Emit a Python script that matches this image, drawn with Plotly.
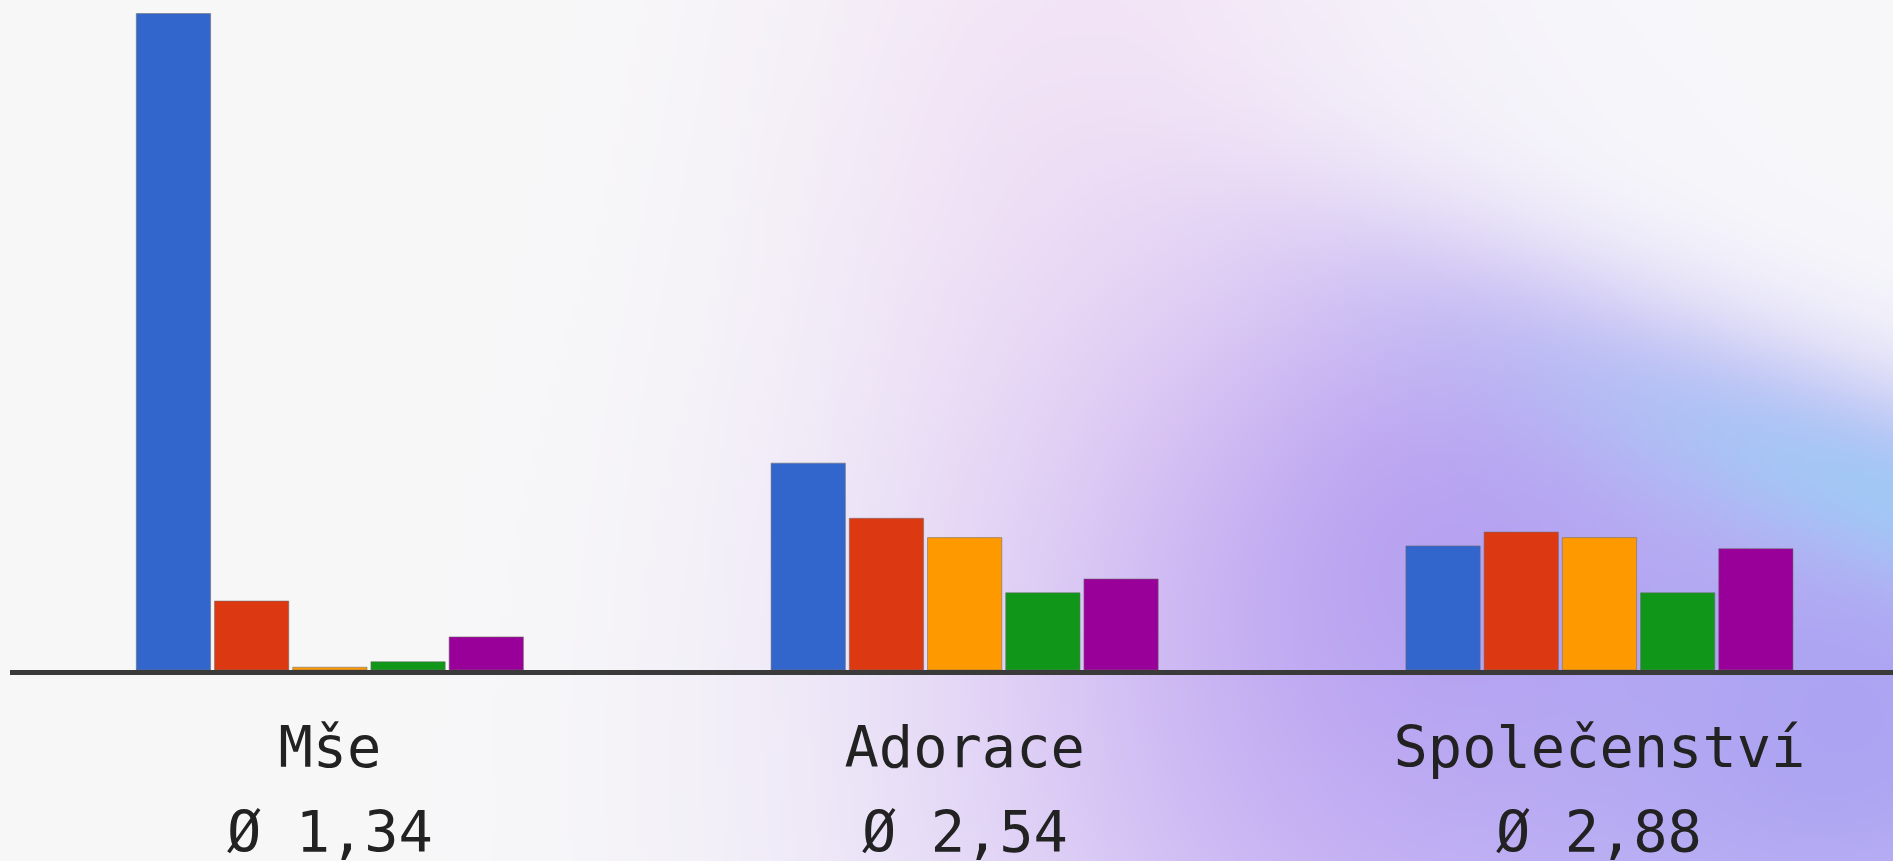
import base64
import struct
import zlib

import numpy as np
import plotly.graph_objects as go

# ---------------- data ----------------
categories = ["Mše", "Adorace", "Společenství"]
averages = [1.34, 2.54, 2.88]
series_names = ["1", "2", "3", "4", "5"]
rating_1 = [238, 75, 45]
rating_2 = [25, 55, 50]
rating_3 = [1, 48, 48]
rating_4 = [3, 28, 28]
rating_5 = [12, 33, 44]
series_values = [rating_1, rating_2, rating_3, rating_4, rating_5]
series_colors = ["#3366cc", "#dc3912", "#ff9900", "#109618", "#990099"]

# ---------------- figure geometry ----------------
W, H = 1893, 861
M_L, M_R, M_T, M_B = 10, 0, 8, 191
PLOT_W = W - M_L - M_R
PLOT_H = H - M_T - M_B
X_RANGE = [-0.50386, 2.46243]
Y_RANGE = [0, 240]

FONT = "DejaVu Sans Mono"
FONT_SIZE = 57
TEXT_COLOR = "#222222"


# ---------------- background gradient (decoration) ----------------
def make_background():
    step = 4
    gw, gh = W // step + 1, H // step + 1
    xs = np.linspace(0, W, gw)
    ys = np.linspace(0, H, gh)
    X, Y = np.meshgrid(xs, ys)

    def blob(cx, cy, sx, sy, ang=0.0, pu=2, pv=2):
        a = np.deg2rad(ang)
        dx, dy = X - cx, Y - cy
        u = dx * np.cos(a) + dy * np.sin(a)
        v = -dx * np.sin(a) + dy * np.cos(a)
        return np.exp(-0.5 * (np.abs(u / sx) ** pu + np.abs(v / sy) ** pv))

    img = np.empty((gh, gw, 3))
    img[:] = (248, 248, 249)
    layers = [
        ((206, 184, 245), 0.85 * blob(1350, 820, 320, 400)),
        ((178, 152, 240), 0.82 * blob(1420, 545, 230, 220)),
        ((166, 157, 242), 0.90 * blob(1860, 720, 300, 280)),
        ((248, 248, 251), 0.96 * blob(1900, 150, 720, 195, 20, 2, 4)),
        ((238, 206, 242), 0.42 * blob(1080, 90, 195, 430)),
        ((158, 202, 246), 0.88 * blob(1920, 510, 250, 55, 20)),
    ]
    for color, alpha in layers:
        a = alpha[..., None]
        img = img * (1 - a) + np.array(color, dtype=float) * a
    arr = np.clip(img, 0, 255).astype(np.uint8)

    raw = b"".join(b"\x00" + arr[r].tobytes() for r in range(gh))

    def chunk(tag, data):
        c = struct.pack(">I", len(data)) + tag + data
        return c + struct.pack(">I", zlib.crc32(tag + data) & 0xFFFFFFFF)

    png = b"\x89PNG\r\n\x1a\n"
    png += chunk(b"IHDR", struct.pack(">IIBBBBB", gw, gh, 8, 2, 0, 0, 0))
    png += chunk(b"IDAT", zlib.compress(raw, 9))
    png += chunk(b"IEND", b"")
    return "data:image/png;base64," + base64.b64encode(png).decode()


# ---------------- traces ----------------
fig = go.Figure()
for name, vals, col in zip(series_names, series_values, series_colors):
    fig.add_trace(
        go.Bar(
            x=categories,
            y=vals,
            name=name,
            marker=dict(color=col, line=dict(color="rgba(110,110,110,0.55)", width=1)),
            hoverinfo="x+y+name",
        )
    )


def fmt_avg(v):
    return "Ø " + f"{v:.2f}".replace(".", ",")


def px_to_paper_y(py):
    return (H - M_B - py) / PLOT_H


annotations = []
for cat, avg in zip(categories, averages):
    annotations.append(
        dict(
            x=cat,
            xref="x",
            y=px_to_paper_y(797),
            yref="paper",
            yanchor="top",
            xanchor="center",
            text=fmt_avg(avg),
            showarrow=False,
            font=dict(family=FONT, size=FONT_SIZE, color=TEXT_COLOR),
        )
    )

fig.update_layout(
    width=W,
    height=H,
    margin=dict(l=M_L, r=M_R, t=M_T, b=M_B, pad=0),
    paper_bgcolor="#f8f8f9",
    plot_bgcolor="rgba(0,0,0,0)",
    barmode="group",
    bargap=0.384,
    bargroupgap=0.05,
    showlegend=False,
    xaxis=dict(
        type="category",
        range=X_RANGE,
        showgrid=False,
        zeroline=False,
        showline=True,
        linecolor="#3a3a3a",
        linewidth=5,
        ticks="",
        ticklabelstandoff=24,
        tickfont=dict(family=FONT, size=FONT_SIZE, color=TEXT_COLOR),
        fixedrange=True,
    ),
    yaxis=dict(
        range=Y_RANGE,
        showgrid=False,
        zeroline=False,
        showline=False,
        showticklabels=False,
        ticks="",
        fixedrange=True,
    ),
    annotations=annotations,
    images=[
        dict(
            source=make_background(),
            xref="paper",
            yref="paper",
            x=-M_L / PLOT_W,
            y=1 + M_T / PLOT_H,
            sizex=W / PLOT_W,
            sizey=H / PLOT_H,
            sizing="stretch",
            xanchor="left",
            yanchor="top",
            layer="below",
        )
    ],
)

fig.write_html(
    "out.html",
    config={"displayModeBar": False},
    post_script="document.body.style.margin='0';document.body.style.overflow='hidden';",
)
